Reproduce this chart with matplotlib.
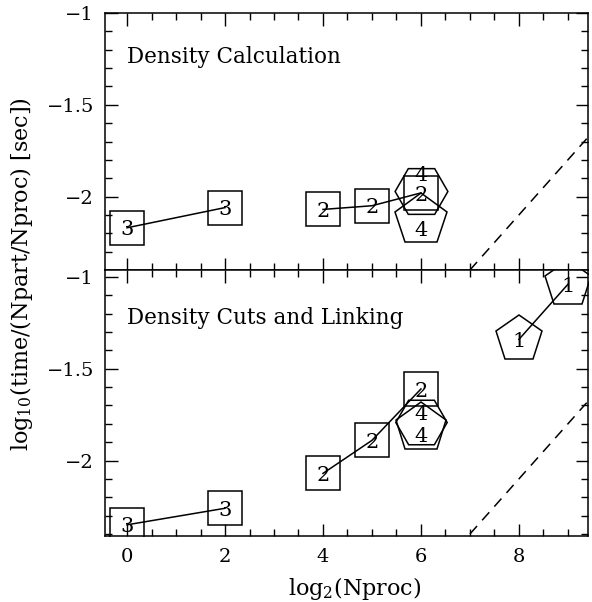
import matplotlib
matplotlib.use("Agg")
import matplotlib.pyplot as plt
from matplotlib.ticker import MultipleLocator
import matplotlib.transforms as mtransforms

plt.rcParams['font.family'] = ['DejaVu Serif']
plt.rcParams['mathtext.fontset'] = 'dejavuserif'

# ---------------- data ----------------
# top panel: Density Calculation
top_sq3_x = [0, 2]
top_sq3_y = [-2.17, -2.06]
top_sq2_x = [4, 5, 6]
top_sq2_y = [-2.07, -2.05, -1.98]
top_hex_x = [6]
top_hex_y = [-1.97]
top_pent_x = [6]
top_pent_y = [-2.13]
top_ideal_x = [7.0, 9.5]
top_ideal_y = [-2.40, -1.65]

# bottom panel: Density Cuts and Linking
bot_sq3_x = [0, 2]
bot_sq3_y = [-2.35, -2.26]
bot_sq2_x = [4, 5, 6]
bot_sq2_y = [-2.07, -1.89, -1.61]
bot_hex_x = [6]
bot_hex_y = [-1.79]
bot_pent_x = [6]
bot_pent_y = [-1.82]
bot_p1_x = [8, 9]
bot_p1_y = [-1.34, -1.04]
bot_ideal_x = [7.0, 9.5]
bot_ideal_y = [-2.40, -1.65]

x_ticks = [0, 2, 4, 6, 8]
y_ticks = [-1, -1.5, -2]
y_ticklabels = ['\u22121', '\u22121.5', '\u22122']
panel_titles = ['Density Calculation', 'Density Cuts and Linking']

# ---------------- figure ----------------
W, H = 592, 602
fig = plt.figure(figsize=(W / 100, H / 100), dpi=100)

def fx(px):
    return px / W

def fy(py):
    return 1 - py / H

ax_top = fig.add_axes([fx(105), fy(270), fx(588) - fx(105), fy(13) - fy(270)])
ax_bot = fig.add_axes([fx(105), fy(536), fx(588) - fx(105), fy(270) - fy(536)])

LW = 1.1
FS_LAB = 15


def label(ax, x, y, s, dy=0.0):
    tr = mtransforms.offset_copy(ax.transData, fig=fig, x=0, y=dy - 0.365 * FS_LAB, units='points')
    ax.text(x, y, s, transform=tr, ha='center', va='baseline', fontsize=FS_LAB,
            clip_on=True, zorder=5)


def series(ax, xs, ys, marker, ms, text, line=True, dy=0.0):
    ax.plot(xs, ys, '-' if line else 'none', color='black', lw=LW,
            marker=marker, ms=ms, mfc='none', mec='black', mew=LW, zorder=3)
    for x, y in zip(xs, ys):
        label(ax, x, y, text, dy)


def style(ax, ylim, title, show_x, title_y):
    ax.set_xlim(-0.45, 9.41)
    ax.set_ylim(*ylim)
    ax.set_xticks(x_ticks)
    ax.xaxis.set_minor_locator(MultipleLocator(0.5))
    ax.set_yticks(y_ticks)
    ax.set_yticklabels(y_ticklabels)
    ax.yaxis.set_minor_locator(MultipleLocator(0.1))
    ax.tick_params(which='both', direction='in', top=True, right=True, width=1.0,
                   labelsize=14, colors='black')
    ax.tick_params(which='major', length=9, pad=8)
    ax.tick_params(which='minor', length=4.8)
    if show_x:
        ax.set_xticklabels([str(t) for t in x_ticks])
        ax.tick_params(axis='x', pad=9)
    else:
        ax.set_xticklabels([])
    for s in ax.spines.values():
        s.set_linewidth(1.1)
    ax.text(0.045, title_y, title, transform=ax.transAxes,
            fontsize=15.5, ha='left', va='center')


style(ax_top, (-2.40, -1.0), panel_titles[0], False, 0.83)
style(ax_bot, (-2.411, -0.962), panel_titles[1], True, 0.818)

# top panel
series(ax_top, top_sq3_x, top_sq3_y, 's', 25, '3')
series(ax_top, top_sq2_x, top_sq2_y, 's', 25, '2')
series(ax_top, top_hex_x, top_hex_y, 'H', 38, '4', line=False, dy=13)
series(ax_top, top_pent_x, top_pent_y, 'p', 39, '4', line=False, dy=-6)
ax_top.plot(top_ideal_x, top_ideal_y, color='black', lw=1.1, dashes=(7, 5))

# bottom panel
series(ax_bot, bot_sq3_x, bot_sq3_y, 's', 25, '3')
series(ax_bot, bot_sq2_x, bot_sq2_y, 's', 25, '2')
series(ax_bot, bot_hex_x, bot_hex_y, 'H', 37, '4', line=False, dy=7)
series(ax_bot, bot_pent_x, bot_pent_y, 'p', 38, '4', line=False, dy=-5)
series(ax_bot, bot_p1_x, bot_p1_y, 'p', 35, '1')
ax_bot.plot(bot_ideal_x, bot_ideal_y, color='black', lw=1.1, dashes=(7, 5))

fig.text(fx(22), fy(274), r'log$_{10}$(time/(Npart/Nproc) [sec])', rotation=90,
         ha='center', va='center', fontsize=16)
fig.text(fx(355), fy(588), r'log$_2$(Nproc)', ha='center', va='center', fontsize=16)

fig.savefig('out.png', dpi=100)
